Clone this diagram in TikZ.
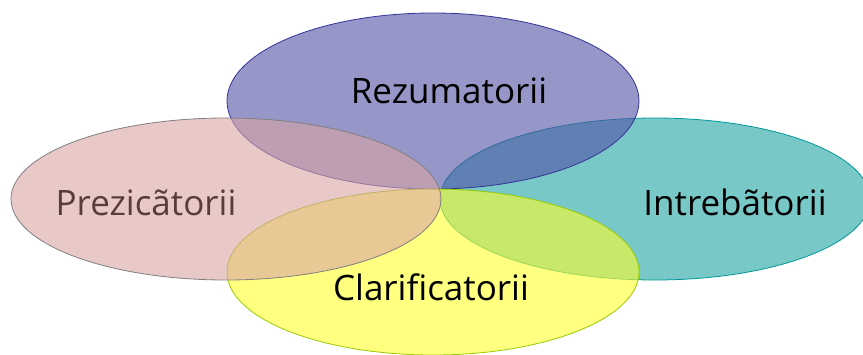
\documentclass[tikz,border=0pt]{standalone}
\usepackage{fontspec}
\setmainfont{Open Sans}
\usetikzlibrary{shapes.geometric}

\definecolor{rezfill}{RGB}{80,80,163}
\definecolor{rezline}{RGB}{51,51,153}
\definecolor{intfill}{RGB}{30,163,163}
\definecolor{intline}{RGB}{0,153,153}
\definecolor{clafill}{RGB}{255,255,43}
\definecolor{claline}{RGB}{153,204,0}
\definecolor{prefill}{RGB}{218,163,163}
\definecolor{preline}{RGB}{128,128,128}
\definecolor{pretext}{RGB}{90,60,60}

\begin{document}
\begin{tikzpicture}[x=1pt,y=-1pt,
    petal/.style={ellipse,inner sep=0pt,line width=0.8pt,fill opacity=0.6},
    word/.style={font=\fontsize{35}{40}\selectfont,inner sep=0pt,anchor=base}]
      \useasboundingbox (0,0) rectangle (863,354);

      % petals, back to front
      \node[petal,draw=intline,fill=intfill,minimum width=430pt,minimum height=162pt] (int) at (655,199) {};
      \node[petal,draw=rezline,fill=rezfill,minimum width=412pt,minimum height=176pt] (rez) at (433,101) {};
      \node[petal,draw=claline,fill=clafill,minimum width=412pt,minimum height=166pt] (cla) at (433,272) {};
      \node[petal,draw=preline,fill=prefill,minimum width=430pt,minimum height=162pt] (pre) at (226,199) {};

      % labels
      \node[word]                (rezt) at (449,103) {Rezumatorii};
      \node[word,text=pretext]   (pret) at (146,215) {Prezicãtorii};
      \node[word]                (intt) at (735,215) {Intrebãtorii};
      \node[word]                (clat) at (431,300) {Clarificatorii};
\end{tikzpicture}
\end{document}
